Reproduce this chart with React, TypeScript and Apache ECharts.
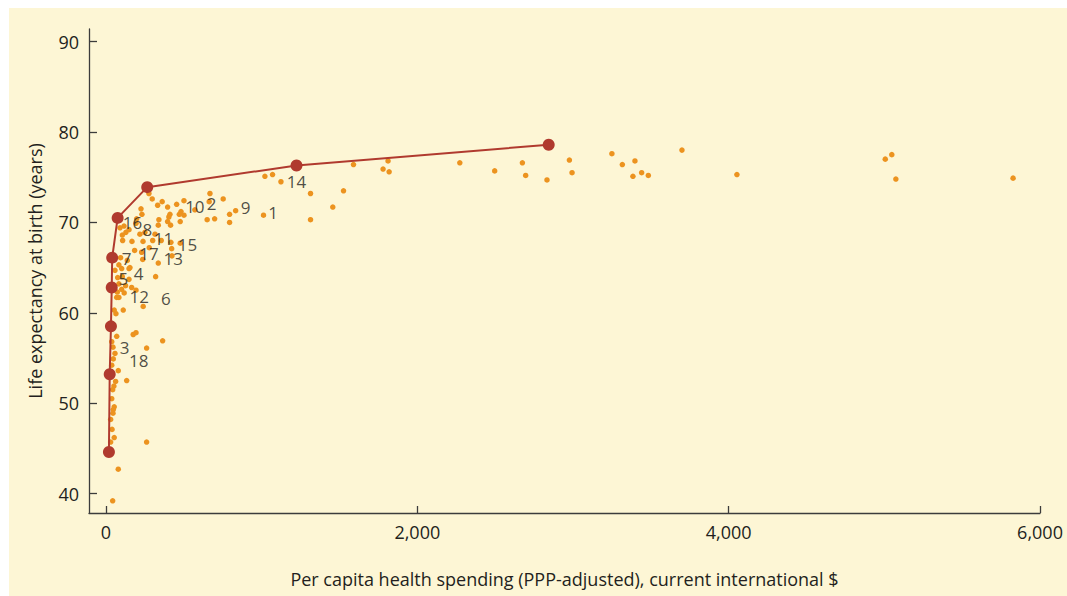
import { useEffect, useRef } from "react";
import * as echarts from "echarts";

// Scatter: countries (per capita health spending, life expectancy)
const spendX = [
  1021, 1070, 1124, 1314, 1526, 1457, 1314, 1012, 1590, 1780, 1812, 1819, 2273, 2497, 2675, 2696, 2833, 2977, 2994, 3250,
  3317, 3398, 3385, 3441, 3484, 3700, 4053, 5006, 5048, 5074, 5827,
  276, 297, 361, 396, 454, 501, 411, 482, 501, 477, 571, 668, 663, 753, 650, 698, 794, 833, 794,
  225, 231, 332, 471, 404, 415, 340, 336, 116, 193, 148, 105, 128, 107, 167, 218, 250, 238, 315, 300,
  355, 417, 477, 422, 184, 229, 278, 336, 236, 137, 101, 148, 105, 319, 126, 117, 165, 69, 239, 111, 64,
  424, 94, 83, 58, 75, 148, 83, 101, 73, 193, 83, 53, 90, 197, 396, 154,
  69, 175, 193, 364, 37, 45, 58, 47, 37, 79, 261, 62, 133, 51, 43, 37, 53, 47, 45, 30, 39, 53, 30, 261, 79, 43,
];
const lifeY = [
  75.1, 75.3, 74.5, 73.2, 73.5, 71.7, 70.3, 70.8, 76.4, 75.9, 76.8, 75.6, 76.6, 75.7, 76.6, 75.2, 74.7, 76.9, 75.5, 77.6,
  76.4, 76.8, 75.1, 75.5, 75.2, 78.0, 75.3, 77.0, 77.5, 74.8, 74.9,
  73.2, 72.6, 72.3, 71.7, 72.0, 72.4, 70.9, 71.2, 70.8, 70.1, 71.4, 73.2, 72.3, 72.6, 70.3, 70.4, 70.9, 71.3, 70.0,
  71.5, 70.9, 71.9, 70.9, 70.6, 69.7, 70.3, 69.7, 69.6, 69.9, 69.2, 68.6, 68.9, 68.0, 67.9, 68.7, 68.9, 67.9, 68.7, 68.0,
  68.0, 67.8, 67.7, 67.1, 66.9, 66.7, 67.2, 65.5, 65.9, 65.8, 64.9, 64.9, 64.0, 64.0, 63.0, 62.2, 62.8, 61.7, 60.7, 60.3, 59.9,
  66.3, 66.1, 65.3, 64.7, 63.9, 63.7, 63.2, 62.6, 62.3, 62.5, 61.7, 60.3, 69.4, 70.4, 70.1, 65.0,
  57.4, 57.6, 57.8, 56.9, 56.8, 56.2, 55.5, 54.9, 54.2, 53.6, 56.1, 52.4, 52.5, 51.9, 51.5, 50.5, 49.6, 49.3, 48.9, 48.2, 47.1, 46.2, 45.7, 45.7, 42.7, 39.2,
];

// Frontier curve
const curveX = [19, 24, 32, 37, 40, 75, 265, 1224, 2844];
const curveY = [44.6, 53.2, 58.5, 62.8, 66.1, 70.5, 73.9, 76.3, 78.6];

// Numbered labels
const labelNames = ["1", "2", "3", "4", "5", "6", "7", "8", "9", "10", "11", "12", "13", "14", "15", "16", "17", "18"];
const labelX = [1074, 679, 120, 210, 112, 385, 133, 266, 897, 571, 370, 214, 432, 1224, 524, 171, 276, 210];
const labelY = [71.1, 72.1, 56.2, 64.3, 63.8, 61.6, 66.0, 69.2, 71.6, 71.8, 68.2, 61.8, 66.0, 74.5, 67.6, 70.0, 66.6, 54.7];

const xTicks = [0, 2000, 4000, 6000];
const yTicks = [40, 50, 60, 70, 80, 90];

const FONT = "Open Sans";
const TEXT = "#231f20";
const AXIS = "#3c3c3c";

export default function App() {
  const ref = useRef<HTMLDivElement>(null);
  useEffect(() => {
    const chart = echarts.init(ref.current!, null, { renderer: "svg" });
    chart.setOption({
      animation: false,
      grid: { left: 80, right: 27, top: 21, bottom: 83 },
      xAxis: {
        type: "value",
        min: -109,
        max: 6000,
        splitLine: { show: false },
        axisLine: { show: true, onZero: false, lineStyle: { color: AXIS, width: 1.3 } },
        axisTick: { show: true, inside: true, length: 7, customValues: xTicks, lineStyle: { color: AXIS, width: 1.3 } },
        axisLabel: {
          customValues: xTicks,
          formatter: (v: number) => v.toLocaleString("en-US"),
          fontSize: 18,
          color: TEXT,
          fontFamily: FONT,
          margin: 10,
        },
        name: "Per capita health spending (PPP-adjusted), current international $",
        nameLocation: "middle",
        nameGap: 57,
        nameTextStyle: { fontSize: 18, color: TEXT, fontFamily: FONT },
      },
      yAxis: {
        type: "value",
        min: 37.85,
        max: 91.4,
        splitLine: { show: false },
        axisLine: { show: true, onZero: false, lineStyle: { color: AXIS, width: 1.3 } },
        axisTick: { show: true, inside: true, length: 8, customValues: yTicks, lineStyle: { color: AXIS, width: 1.3 } },
        axisLabel: {
          customValues: yTicks,
          fontSize: 18,
          color: TEXT,
          fontFamily: FONT,
          margin: 10,
        },
        name: "Life expectancy at birth (years)",
        nameLocation: "middle",
        nameGap: 45,
        nameTextStyle: { fontSize: 18, color: TEXT, fontFamily: FONT },
      },
      series: [
        {
          type: "scatter",
          data: spendX.map((x, i) => [x, lifeY[i]]),
          symbolSize: 5.5,
          itemStyle: { color: "#EC931F", opacity: 1 },
          z: 2,
        },
        {
          type: "line",
          data: curveX.map((x, i) => [x, curveY[i]]),
          symbol: "circle",
          symbolSize: 12,
          lineStyle: { color: "#B03A2E", width: 2 },
          itemStyle: { color: "#B03A2E" },
          z: 3,
        },
        {
          type: "scatter",
          data: labelNames.map((n, i) => ({ name: n, value: [labelX[i], labelY[i]] })),
          symbol: "circle",
          symbolSize: 1,
          itemStyle: { color: "rgba(0,0,0,0)" },
          label: {
            show: true,
            position: "inside",
            formatter: "{b}",
            fontSize: 17,
            lineHeight: 17,
            color: TEXT,
            fontFamily: FONT,
          },
          z: 4,
        },
      ],
    });
    return () => chart.dispose();
  }, []);
  return (
    <div style={{ position: "fixed", left: 0, top: 0, width: 1067, height: 596, background: "#ffffff" }}>
      <div
        ref={ref}
        style={{ position: "absolute", left: 9, top: 8, width: 1058, height: 588, background: "#FDF6D5" }}
      />
    </div>
  );
}
